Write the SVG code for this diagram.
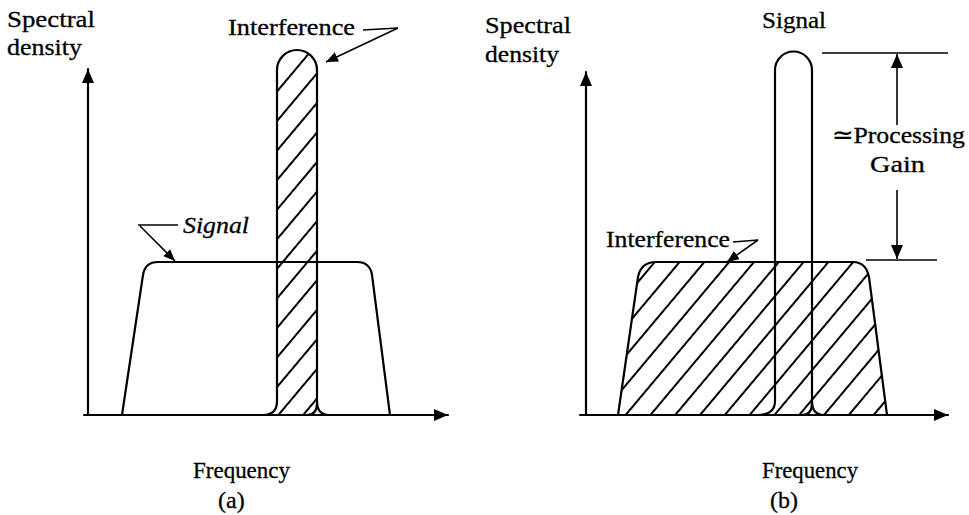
<svg xmlns="http://www.w3.org/2000/svg" width="969" height="515" viewBox="0 0 969 515">
<style>
.ln{fill:none;stroke:#000;stroke-width:2.2;stroke-linejoin:round;stroke-linecap:round}
.thin{fill:none;stroke:#000;stroke-width:1.6}
.t{font-family:"Liberation Serif","Times New Roman",serif;font-size:24px;fill:#000;stroke:#000;stroke-width:0.3}
.it{font-style:italic}
</style>
<defs>
<marker id="ah" viewBox="0 0 14 12" refX="14" refY="6" markerWidth="14" markerHeight="12" orient="auto" markerUnits="userSpaceOnUse"><path d="M0,0 L14,6 L0,12 z" fill="#000"/></marker>
<marker id="ahs" viewBox="0 0 12 10" refX="12" refY="5" markerWidth="12" markerHeight="10" orient="auto" markerUnits="userSpaceOnUse"><path d="M0,0 L12,5 L0,10 z" fill="#000"/></marker>
<pattern id="hatch" width="19" height="19" patternUnits="userSpaceOnUse" patternTransform="rotate(40)"><line x1="5" y1="0" x2="5" y2="19" stroke="#000" stroke-width="2"/></pattern>
<clipPath id="cA"><path d="M277 415 L277 70 A20 20 0 0 1 317 70 L317 415 Z"/></clipPath>
<clipPath id="cB"><path d="M618 415 L638 277 Q641 262 656 262 L853 262 Q866 262 869 277 L887 415 Z"/></clipPath>
</defs>

<g id="panel-a">
  <g id="a-axes">
    <line class="ln" x1="88" y1="415" x2="88" y2="69" marker-end="url(#ah)"/>
    <line class="ln" x1="84" y1="415" x2="448" y2="415" marker-end="url(#ah)"/>
  </g>
  <g id="a-interference">
    <rect x="270" y="40" width="60" height="380" fill="url(#hatch)" clip-path="url(#cA)"/>
    <path class="ln" d="M263 415 Q277 415 277 401 L277 70 A20 20 0 0 1 317 70 L317 401 Q317 415 329 415"/>
    <path class="ln" d="M317 403 Q317 415 307 415"/>
  </g>
  <g id="a-signal">
    <path class="ln" d="M122 415 L143 275 Q145 262 158 262 L357 262 Q370 262 372 275 L390 415"/>
  </g>
  <g id="a-labels">
    <text class="t" x="7" y="27" textLength="88" lengthAdjust="spacingAndGlyphs">Spectral</text>
    <text class="t" x="7" y="55" textLength="75" lengthAdjust="spacingAndGlyphs">density</text>
    <text class="t" x="228" y="35" textLength="127" lengthAdjust="spacingAndGlyphs">Interference</text>
    <text class="t it" x="183" y="233" textLength="66" lengthAdjust="spacingAndGlyphs">Signal</text>
    <text class="t" x="193" y="478" textLength="97" lengthAdjust="spacingAndGlyphs">Frequency</text>
    <text class="t" x="218" y="508">(a)</text>
  </g>
</g>

<g id="panel-b">
  <g id="b-axes">
    <line class="ln" x1="586" y1="415" x2="586" y2="72" marker-end="url(#ah)"/>
    <line class="ln" x1="580" y1="415" x2="948" y2="415" marker-end="url(#ah)"/>
  </g>
  <g id="b-interference">
    <rect x="610" y="255" width="290" height="165" fill="url(#hatch)" clip-path="url(#cB)"/>
    <path class="ln" d="M618 415 L638 277 Q641 262 656 262 L853 262 Q866 262 869 277 L887 415"/>
  </g>
  <g id="b-signal">
    <path class="ln" d="M757 415 Q775 415 775 401 L775 70 A18.5 18.5 0 0 1 812 70 L812 401 Q812 415 824 415"/>
    <path class="ln" d="M812 403 Q812 415 802 415"/>
  </g>
  <g id="b-gain">
    <line class="thin" x1="822" y1="53" x2="948" y2="53"/>
    <line class="thin" x1="866" y1="260" x2="937" y2="260"/>
  </g>
  <g id="b-labels">
    <text class="t" x="485" y="33" textLength="86" lengthAdjust="spacingAndGlyphs">Spectral</text>
    <text class="t" x="485" y="62" textLength="74" lengthAdjust="spacingAndGlyphs">density</text>
    <text class="t" x="762" y="28" textLength="64" lengthAdjust="spacingAndGlyphs">Signal</text>
    <text class="t" x="832" y="143" textLength="133" lengthAdjust="spacingAndGlyphs">≃Processing</text>
    <text class="t" x="870" y="172" textLength="55" lengthAdjust="spacingAndGlyphs">Gain</text>
    <text class="t" x="606" y="247" textLength="124" lengthAdjust="spacingAndGlyphs">Interference</text>
    <text class="t" x="762" y="478" textLength="96" lengthAdjust="spacingAndGlyphs">Frequency</text>
    <text class="t" x="770" y="508">(b)</text>
  </g>
</g>

<g id="connectors">
  <polyline class="thin" points="363,30 398,28"/>
  <line class="thin" x1="398" y1="28" x2="326" y2="62" marker-end="url(#ahs)"/>
  <polyline class="thin" points="178,225 138,225"/>
  <line class="thin" x1="140" y1="226" x2="175" y2="261" marker-end="url(#ahs)"/>
  <polyline class="thin" points="733,242 758,240"/>
  <line class="thin" x1="758" y1="240" x2="727" y2="262" marker-end="url(#ahs)"/>
  <line class="thin" x1="897" y1="125" x2="897" y2="54" marker-end="url(#ah)"/>
  <line class="thin" x1="897" y1="190" x2="897" y2="259" marker-end="url(#ah)"/>
</g>
</svg>
